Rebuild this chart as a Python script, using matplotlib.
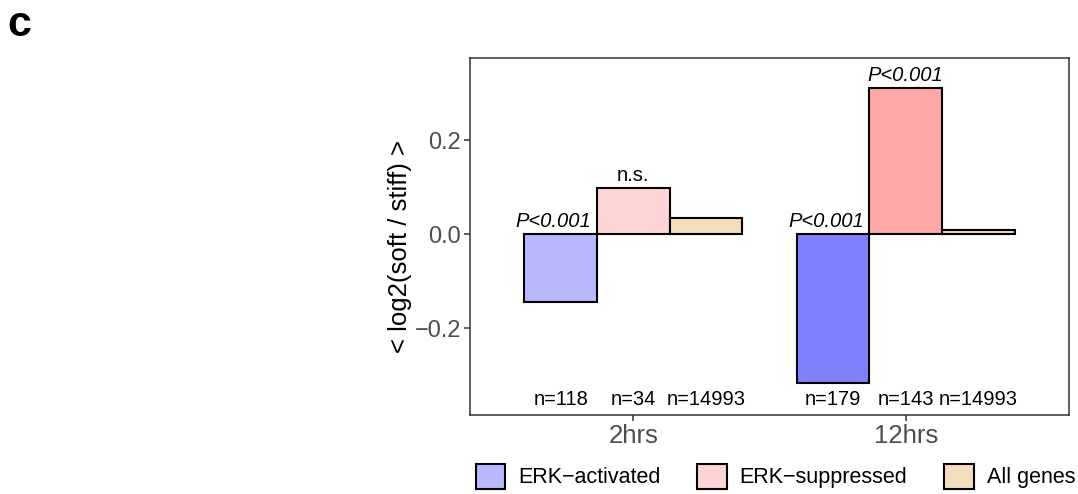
import numpy as np
import matplotlib.pyplot as plt
from matplotlib.patches import Patch

plt.rcParams['font.family'] = ['Liberation Sans', 'DejaVu Sans']

# data
times = ['2hrs', '12hrs']
series = ['ERK−activated', 'ERK−suppressed', 'All genes']
values = {
    'ERK−activated': [-0.143, -0.316],
    'ERK−suppressed': [0.098, 0.311],
    'All genes': [0.034, 0.010],
}
counts = {
    'ERK−activated': ['n=118', 'n=179'],
    'ERK−suppressed': ['n=34', 'n=143'],
    'All genes': ['n=14993', 'n=14993'],
}
signif = {
    'ERK−activated': ['P<0.001', 'P<0.001'],
    'ERK−suppressed': ['n.s.', 'P<0.001'],
    'All genes': ['', ''],
}
colors = {
    'ERK−activated': ['#B8B8FF', '#8080FF'],
    'ERK−suppressed': ['#FFD5D5', '#FFA8A8'],
    'All genes': ['#F2DEBA', '#F2DEBA'],
}

fig = plt.figure(figsize=(10.78, 4.94), dpi=100)
ax = fig.add_axes([0.436, 0.16, 0.5557, 0.7227])

x = np.arange(1, len(times) + 1)
w = 0.8 / len(series)
for i, s in enumerate(series):
    pos = x + (i - 1) * w
    ax.bar(pos, values[s], width=w, color=colors[s], edgecolor='black',
           linewidth=1.5, zorder=2)
    for j, p in enumerate(pos):
        ax.text(p, -0.35, counts[s][j], ha='center', va='center', fontsize=14.5)
        lab = signif[s][j]
        if lab:
            top = max(values[s][j], 0)
            shift = -0.026 if values[s][j] < 0 else 0
            style = 'italic' if lab.startswith('P') else 'normal'
            ax.text(p + shift, top + 0.015, lab, ha='center', va='baseline',
                    fontsize=14.5, style=style)

ax.set_xlim(0.4, 2.6)
ax.set_ylim(-0.3837, 0.3743)
ax.set_xticks(x)
ax.set_xticklabels(times, fontsize=18.5, color='#4D4D4D')
ax.set_yticks([-0.2, 0.0, 0.2])
ax.set_yticklabels(['−0.2', '0.0', '0.2'], fontsize=17, color='#4D4D4D')
ax.tick_params(direction='out', length=4.5, width=1.1, color='#333333', pad=2)
for sp in ax.spines.values():
    sp.set_color('#333333')
    sp.set_linewidth(1.1)
ax.set_ylabel('< log2(soft / stiff) >', fontsize=18.5)
ax.yaxis.set_label_coords(-0.096, 0.472)

handles = [Patch(facecolor=colors[s][0], edgecolor='black', linewidth=1.5, label=s)
           for s in series]
fig.legend(handles=handles, loc='center', bbox_to_anchor=(0.7194, 0.0358), ncol=3,
           frameon=False, fontsize=15.5, handlelength=1.36, handleheight=1.4,
           handletextpad=0.6, columnspacing=1.72, borderpad=0, borderaxespad=0)

fig.text(0.0065, 0.95, 'c', fontsize=31, fontweight='bold', va='center')

fig.savefig('out.png', dpi=100)
